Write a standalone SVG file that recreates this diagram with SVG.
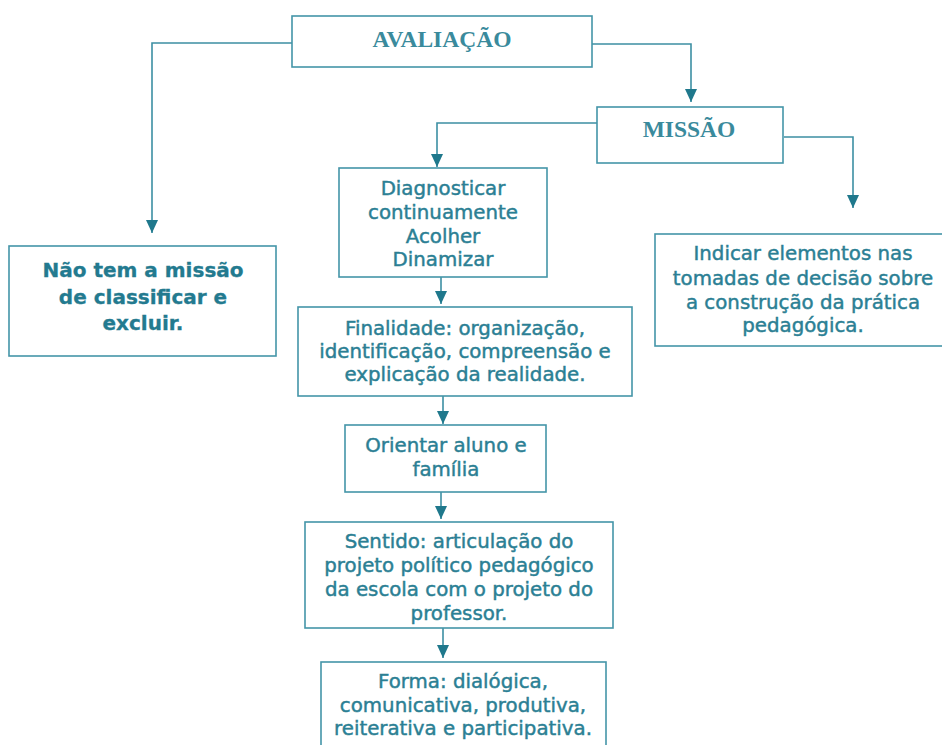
<svg xmlns="http://www.w3.org/2000/svg" width="942" height="745" viewBox="0 0 942 745">
<defs>
<style>
.box{fill:#fff;stroke:#4495a8;stroke-width:1.6}
.t{font-family:"DejaVu Sans",Verdana,sans-serif;font-size:19.8px;fill:#2b7f94;stroke:#2b7f94;stroke-width:0.45;text-anchor:middle}
.tb{font-family:"DejaVu Sans",Verdana,sans-serif;font-size:20px;font-weight:bold;fill:#237a8f;stroke:#237a8f;stroke-width:0.3;text-anchor:middle}
.ts{font-family:"Liberation Serif","Times New Roman",serif;font-size:23.5px;font-weight:bold;fill:#3a8a9c;text-anchor:middle}
.c{fill:none;stroke:#3c8fa3;stroke-width:1.6;marker-end:url(#ah)}
</style>
<marker id="ah" viewBox="0 0 13 12" refX="13" refY="6" markerWidth="13" markerHeight="12" markerUnits="userSpaceOnUse" orient="auto">
<path d="M0,0 L13,6 L0,12 z" fill="#1f788c"/>
</marker>
</defs>
<rect width="942" height="745" fill="#fff"/>
<g id="connectors">
<path class="c" d="M292,43 H152 V233"/>
<path class="c" d="M592,44 H691 V102"/>
<path class="c" d="M597,123 H437 V167"/>
<path class="c" d="M784,137 H853 V208"/>
<path class="c" d="M441,277 V304"/>
<path class="c" d="M443,396 V424"/>
<path class="c" d="M441,492 V519"/>
<path class="c" d="M443,628 V658"/>
</g>
<g id="avaliacao">
<rect class="box" x="292" y="16" width="300" height="51"/>
<text class="ts" x="442" y="47">AVALIAÇÃO</text>
</g>
<g id="missao">
<rect class="box" x="597" y="107" width="186" height="56"/>
<text class="ts" x="689" y="137">MISSÃO</text>
</g>
<g id="nao-tem">
<rect class="box" x="9" y="246" width="267" height="110"/>
<text class="tb" x="143" y="277">Não tem a missão</text>
<text class="tb" x="143" y="304">de classificar e</text>
<text class="tb" x="143" y="330">excluir.</text>
</g>
<g id="diagnosticar">
<rect class="box" x="339" y="168" width="208" height="109"/>
<text class="t" x="443" y="195">Diagnosticar</text>
<text class="t" x="443" y="219">continuamente</text>
<text class="t" x="443" y="243">Acolher</text>
<text class="t" x="443" y="266">Dinamizar</text>
</g>
<g id="indicar">
<rect class="box" x="655" y="234" width="300" height="112"/>
<text class="t" x="803" y="260">Indicar elementos nas</text>
<text class="t" x="803" y="285">tomadas de decisão sobre</text>
<text class="t" x="803" y="309">a construção da prática</text>
<text class="t" x="803" y="332">pedagógica.</text>
</g>
<g id="finalidade">
<rect class="box" x="298" y="307" width="334" height="89"/>
<text class="t" x="465" y="335">Finalidade: organização,</text>
<text class="t" x="465" y="358">identificação, compreensão e</text>
<text class="t" x="465" y="381">explicação da realidade.</text>
</g>
<g id="orientar">
<rect class="box" x="345" y="425" width="201" height="67"/>
<text class="t" x="446" y="452">Orientar aluno e</text>
<text class="t" x="446" y="476">família</text>
</g>
<g id="sentido">
<rect class="box" x="305" y="522" width="308" height="106"/>
<text class="t" x="459" y="548">Sentido: articulação do</text>
<text class="t" x="459" y="572">projeto político pedagógico</text>
<text class="t" x="459" y="596">da escola com o projeto do</text>
<text class="t" x="459" y="620">professor.</text>
</g>
<g id="forma">
<rect class="box" x="321" y="662" width="285" height="100"/>
<text class="t" x="463" y="688">Forma: dialógica,</text>
<text class="t" x="463" y="712">comunicativa, produtiva,</text>
<text class="t" x="463" y="735">reiterativa e participativa.</text>
</g>
</svg>
